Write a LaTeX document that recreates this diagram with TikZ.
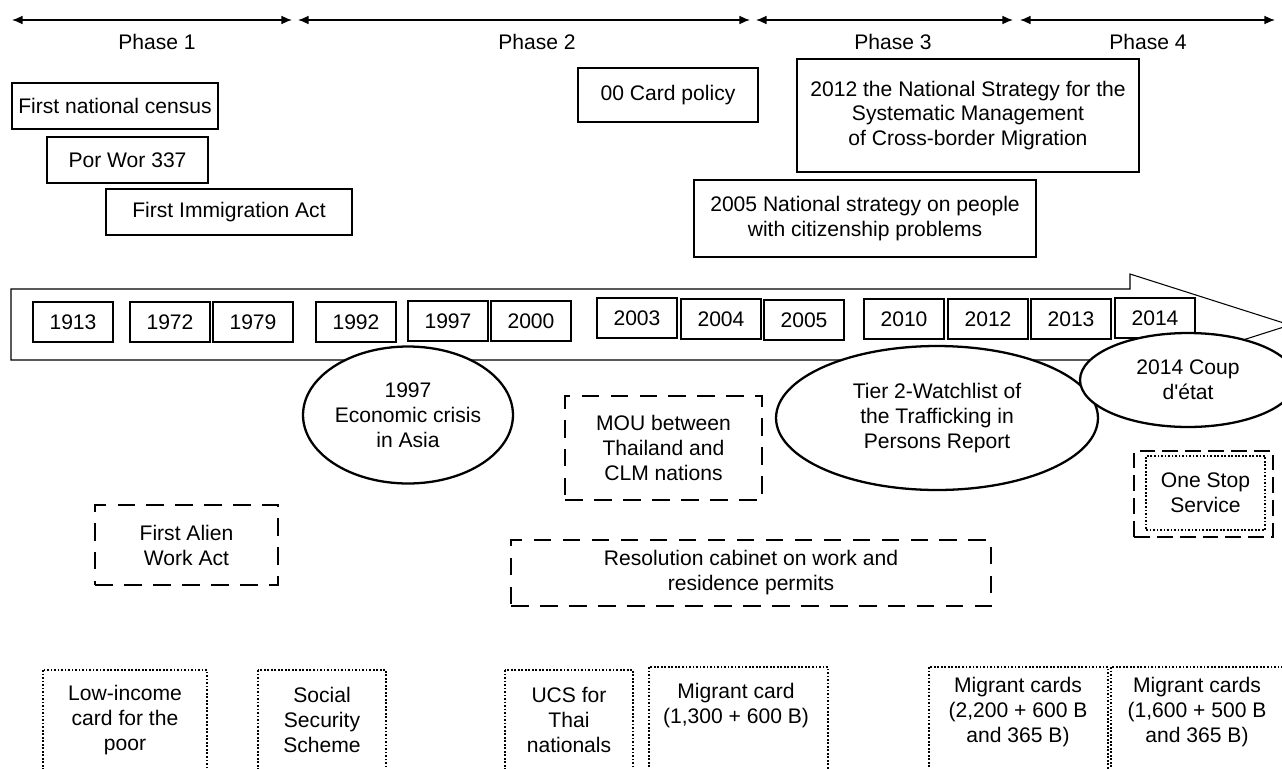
\documentclass[tikz,border=0pt]{standalone}
\usepackage{fontspec}
\setmainfont{Liberation Sans}
\usetikzlibrary{shapes.geometric, positioning, arrows, arrows.meta}

\begin{document}
\begin{tikzpicture}[x=0.02cm, y=-0.02cm,
     every node/.style={font=\fontsize{12}{14.2}\selectfont, align=center},
     plainbox/.style={draw, line width=1.1pt, inner sep=0pt},
     yearbox/.style={draw, line width=0.6pt, minimum width=1.6cm, minimum height=0.8cm, inner sep=0pt},
     event/.style={ellipse, draw, line width=1.3pt, fill=white, inner sep=0pt},
     dashbox/.style={draw, line width=1.6pt, dash pattern=on 10pt off 6.5pt, inner sep=0pt},
     dotbox/.style={draw, line width=0.6pt, dash pattern=on 1pt off 1pt},
     phase/.style={{Latex[length=6pt,width=5pt]}-{Latex[length=6pt,width=5pt]}, line width=0.8pt}]
     \useasboundingbox (0,0) rectangle (1282,768);
     %phases
     \coordinate (ph1a) at (12,20);
     \coordinate (ph1b) at (292,20);
     \coordinate (ph2a) at (298,20);
     \coordinate (ph2b) at (750,20);
     \coordinate (ph3a) at (756,20);
     \coordinate (ph3b) at (1013,20);
     \coordinate (ph4a) at (1020,20);
     \coordinate (ph4b) at (1275,20);
     \draw[phase] (ph1a) -- (ph1b);
     \draw[phase] (ph2a) -- (ph2b);
     \draw[phase] (ph3a) -- (ph3b);
     \draw[phase] (ph4a) -- (ph4b);
     \node (phase1) at (157,42) {Phase 1};
     \node (phase2) at (537,42) {Phase 2};
     \node (phase3) at (893,42) {Phase 3};
     \node (phase4) at (1148,42) {Phase 4};
     %policies above the time line
     \node[plainbox, minimum width=4.12cm, minimum height=0.92cm] (census) at (115,106) {First national census};
     \node[plainbox, minimum width=3.22cm, minimum height=0.92cm] (porwor) at (127.5,160) {Por Wor 337};
     \node[plainbox, minimum width=4.92cm, minimum height=0.92cm] (immig) at (229,212) {First Immigration Act};
     \node[plainbox, minimum width=3.6cm, minimum height=1.08cm] (card) at (668,95) {00 Card policy};
     \node[plainbox, minimum width=6.84cm, minimum height=2.26cm] (strat12) at (968,115.5) {2012 the National Strategy for the\\ Systematic Management\\ of Cross-border Migration};
     \node[plainbox, minimum width=6.84cm, minimum height=1.54cm] (strat05) at (865,218.5) {2005 National strategy on people\\ with citizenship problems};
     %time line
     \draw[line width=0.6pt] (11,289) -- (1130,289) -- (1130,274) -- (1290,325) -- (1130,376) -- (1130,360) -- (11,360) -- cycle;
     \node[yearbox] (y1913) at (73,322) {1913};
     \node[yearbox] (y1972) at (170,322) {1972};
     \node[yearbox] (y1979) at (253,322) {1979};
     \node[yearbox] (y1992) at (356,322) {1992};
     \node[yearbox] (y1997) at (448,321) {1997};
     \node[yearbox] (y2000) at (531,321) {2000};
     \node[yearbox] (y2003) at (637,318) {2003};
     \node[yearbox] (y2004) at (721,319) {2004};
     \node[yearbox] (y2005) at (804,320) {2005};
     \node[yearbox] (y2010) at (904,319) {2010};
     \node[yearbox] (y2012) at (988,319) {2012};
     \node[yearbox] (y2013) at (1071,319) {2013};
     \node[yearbox] (y2014) at (1155,318) {2014};
     %events
     \node[event, minimum width=4.2cm, minimum height=2.74cm] (crisis) at (408,415) {1997\\ Economic crisis\\ in Asia};
     \node[event, minimum width=6.44cm, minimum height=2.88cm] (tier) at (937,418) {Tier 2-Watchlist of\\ the Trafficking in\\ Persons Report};
     \node[event, minimum width=4.32cm, minimum height=1.88cm] (coup) at (1188,380) {2014 Coup\\ d\textquotesingle état};
     %dashed boxes
     \node[dashbox, minimum width=3.66cm, minimum height=1.6cm] (alien) at (186.5,545) {First Alien\\ Work Act};
     \node[dashbox, minimum width=3.94cm, minimum height=2.08cm] (mou) at (663.5,448) {MOU between\\ Thailand and\\ CLM nations};
     \node[dashbox, minimum width=9.6cm, minimum height=1.32cm] (resol) at (751,573) {Resolution cabinet on work and\\ residence permits};
     \node[draw, line width=0.6pt, dash pattern=on 9pt off 4pt, minimum width=2.78cm, minimum height=1.72cm] (stopframe) at (1203.5,494) {};
     \node[dotbox, minimum width=2.38cm, minimum height=1.48cm] (onestop) at (1205.5,493) {One Stop\\ Service};
     %cards, open at the bottom
     \draw[dotbox] (43,670) rectangle (207,790);
     \draw[dotbox] (258,670) rectangle (386,790);
     \draw[dotbox] (505,670) rectangle (633,790);
     \draw[dotbox] (649,667) rectangle (828,790);
     \draw[dotbox] (929,667) rectangle (1108,790);
     \draw[dotbox] (1111,667) rectangle (1290,790);
     \node (lowinc) at (125,720) {Low-income\\ card for the\\ poor};
     \node (social) at (322,720) {Social\\ Security\\ Scheme};
     \node (ucs) at (569,720) {UCS for\\ Thai\\ nationals};
     \node (migr1) at (736,706) {Migrant card\\ (1,300 + 600 B)};
     \node (migr2) at (1018,712) {Migrant cards\\ (2,200 + 600 B\\ and 365 B)};
     \node (migr3) at (1197,712) {Migrant cards\\ (1,600 + 500 B\\ and 365 B)};
   \end{tikzpicture}
\end{document}
